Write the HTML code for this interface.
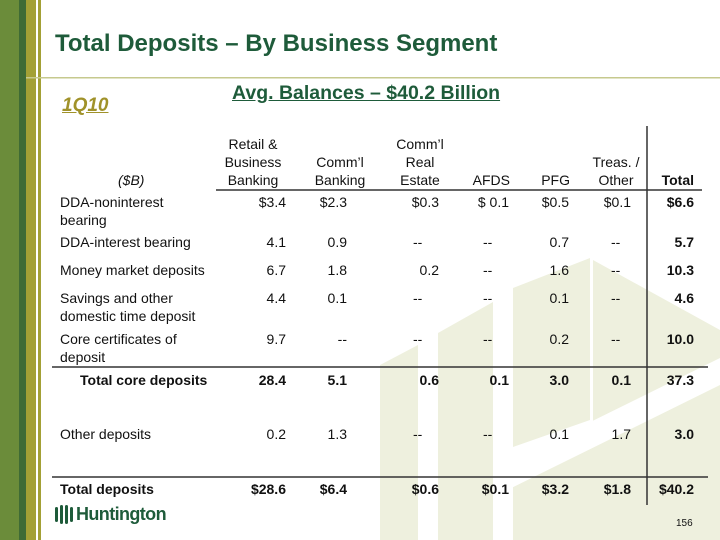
<!DOCTYPE html>
<html><head><meta charset="utf-8"><style>
body{margin:0;width:720px;height:540px;overflow:hidden;background:#fff;font-family:"Liberation Sans",sans-serif;position:relative}
.a{position:absolute;white-space:nowrap}
.t{font-size:14px;color:#111;line-height:18px}
.r{text-align:right}
.b{font-weight:bold}
</style></head><body>
<svg class="a" style="left:0;top:0" width="720" height="540">
<g fill="#eef0de">
<polygon points="380,365 418,345 418,540 380,540"/>
<polygon points="438,333 493,302 493,540 438,540"/>
<polygon points="513,288 590,258 590,420 513,447"/>
<polygon points="593,260 720,330 720,540 593,540"/>
<polygon points="513,470 593,440 593,540 513,540"/>
</g>
<polygon points="493,470 720,358 720,385 493,497" fill="#fff"/>
<rect x="0" y="0" width="19" height="540" fill="#6b8c3a"/>
<rect x="19" y="0" width="7" height="540" fill="#3f6b35"/>
<rect x="26" y="0" width="10" height="540" fill="#a3a035"/>
<rect x="38" y="0" width="3" height="540" fill="#a3a035"/>
<rect x="26" y="77" width="694" height="1.5" fill="#c6c98e"/>
<line x1="216" y1="190" x2="702" y2="190" stroke="#333" stroke-width="1.5"/>
<line x1="52" y1="367" x2="708" y2="367" stroke="#333" stroke-width="1.5"/>
<line x1="52" y1="477" x2="708" y2="477" stroke="#333" stroke-width="1.5"/>
<line x1="647" y1="126" x2="647" y2="505" stroke="#333" stroke-width="1.5"/>
<g fill="#1e5b3a">
<rect x="55" y="507" width="3" height="15" rx="1.5"/><rect x="60" y="505" width="3" height="19" rx="1.5"/><rect x="65" y="505" width="3" height="19" rx="1.5"/><rect x="70" y="507" width="3" height="15" rx="1.5"/>
</g>
</svg>
<div class="a b" style="left:55px;top:30px;font-size:24px;color:#1e5b3a">Total Deposits – By Business Segment</div>
<div class="a b" style="left:232px;top:82px;font-size:19.5px;color:#1e5b3a;text-decoration:underline">Avg. Balances – $40.2 Billion</div>
<div class="a b" style="left:62px;top:95px;font-size:19px;color:#a0922a;font-style:italic;text-decoration:underline">1Q10</div>
<div class="a b" style="left:76px;top:504px;font-size:18px;color:#1e5b3a;letter-spacing:-0.6px">Huntington</div>
<div class="a" style="left:676px;top:518px;font-size:10px;color:#111">156</div>

<div class="a t" style="left:118px;top:171px;font-style:italic">($B)</div>
<div class="a t" style="left:220px;top:135px;width:66px;text-align:center">Retail &amp;<br>Business<br>Banking</div>
<div class="a t" style="left:310px;top:153px;width:60px;text-align:center">Comm’l<br>Banking</div>
<div class="a t" style="left:395px;top:135px;width:50px;text-align:center">Comm’l<br>Real<br>Estate</div>
<div class="a t r" style="left:450px;top:171px;width:60px">AFDS</div>
<div class="a t r" style="left:510px;top:171px;width:60px">PFG</div>
<div class="a t" style="left:586px;top:153px;width:60px;text-align:center">Treas. /<br>Other</div>
<div class="a t r b" style="left:630px;top:171px;width:64px">Total</div>

<div class="a t" style="left:60px;top:193px">DDA-noninterest<br>bearing</div>
<div class="a t" style="left:60px;top:233px">DDA-interest bearing</div>
<div class="a t" style="left:60px;top:261px">Money market deposits</div>
<div class="a t" style="left:60px;top:289px">Savings and other<br>domestic time deposit</div>
<div class="a t" style="left:60px;top:330px">Core certificates of<br>deposit</div>
<div class="a t b" style="left:80px;top:371px">Total core deposits</div>
<div class="a t" style="left:60px;top:425px">Other deposits</div>
<div class="a t b" style="left:60px;top:480px">Total deposits</div>

<div class="a t r" style="left:220px;top:193px;width:66px">$3.4</div>
<div class="a t r" style="left:220px;top:233px;width:66px">4.1</div>
<div class="a t r" style="left:220px;top:261px;width:66px">6.7</div>
<div class="a t r" style="left:220px;top:289px;width:66px">4.4</div>
<div class="a t r" style="left:220px;top:330px;width:66px">9.7</div>
<div class="a t r b" style="left:220px;top:371px;width:66px">28.4</div>
<div class="a t r" style="left:220px;top:425px;width:66px">0.2</div>
<div class="a t r b" style="left:220px;top:480px;width:66px">$28.6</div>

<div class="a t r" style="left:290px;top:193px;width:57px">$2.3</div>
<div class="a t r" style="left:290px;top:233px;width:57px">0.9</div>
<div class="a t r" style="left:290px;top:261px;width:57px">1.8</div>
<div class="a t r" style="left:290px;top:289px;width:57px">0.1</div>
<div class="a t r" style="left:290px;top:330px;width:57px">--</div>
<div class="a t r b" style="left:290px;top:371px;width:57px">5.1</div>
<div class="a t r" style="left:290px;top:425px;width:57px">1.3</div>
<div class="a t r b" style="left:290px;top:480px;width:57px">$6.4</div>

<div class="a t r" style="left:380px;top:193px;width:59px">$0.3</div>
<div class="a t" style="left:413px;top:233px">--</div>
<div class="a t r" style="left:380px;top:261px;width:59px">0.2</div>
<div class="a t" style="left:413px;top:289px">--</div>
<div class="a t" style="left:413px;top:330px">--</div>
<div class="a t r b" style="left:380px;top:371px;width:59px">0.6</div>
<div class="a t" style="left:413px;top:425px">--</div>
<div class="a t r b" style="left:380px;top:480px;width:59px">$0.6</div>

<div class="a t r" style="left:450px;top:193px;width:59px">$ 0.1</div>
<div class="a t" style="left:483px;top:233px">--</div>
<div class="a t" style="left:483px;top:261px">--</div>
<div class="a t" style="left:483px;top:289px">--</div>
<div class="a t" style="left:483px;top:330px">--</div>
<div class="a t r b" style="left:450px;top:371px;width:59px">0.1</div>
<div class="a t" style="left:483px;top:425px">--</div>
<div class="a t r b" style="left:450px;top:480px;width:59px">$0.1</div>

<div class="a t r" style="left:510px;top:193px;width:59px">$0.5</div>
<div class="a t r" style="left:510px;top:233px;width:59px">0.7</div>
<div class="a t r" style="left:510px;top:261px;width:59px">1.6</div>
<div class="a t r" style="left:510px;top:289px;width:59px">0.1</div>
<div class="a t r" style="left:510px;top:330px;width:59px">0.2</div>
<div class="a t r b" style="left:510px;top:371px;width:59px">3.0</div>
<div class="a t r" style="left:510px;top:425px;width:59px">0.1</div>
<div class="a t r b" style="left:510px;top:480px;width:59px">$3.2</div>

<div class="a t r" style="left:572px;top:193px;width:59px">$0.1</div>
<div class="a t" style="left:611px;top:233px">--</div>
<div class="a t" style="left:611px;top:261px">--</div>
<div class="a t" style="left:611px;top:289px">--</div>
<div class="a t" style="left:611px;top:330px">--</div>
<div class="a t r b" style="left:572px;top:371px;width:59px">0.1</div>
<div class="a t r" style="left:572px;top:425px;width:59px">1.7</div>
<div class="a t r b" style="left:572px;top:480px;width:59px">$1.8</div>

<div class="a t r b" style="left:630px;top:193px;width:64px">$6.6</div>
<div class="a t r b" style="left:630px;top:233px;width:64px">5.7</div>
<div class="a t r b" style="left:630px;top:261px;width:64px">10.3</div>
<div class="a t r b" style="left:630px;top:289px;width:64px">4.6</div>
<div class="a t r b" style="left:630px;top:330px;width:64px">10.0</div>
<div class="a t r b" style="left:630px;top:371px;width:64px">37.3</div>
<div class="a t r b" style="left:630px;top:425px;width:64px">3.0</div>
<div class="a t r b" style="left:630px;top:480px;width:64px">$40.2</div>
</body></html>
